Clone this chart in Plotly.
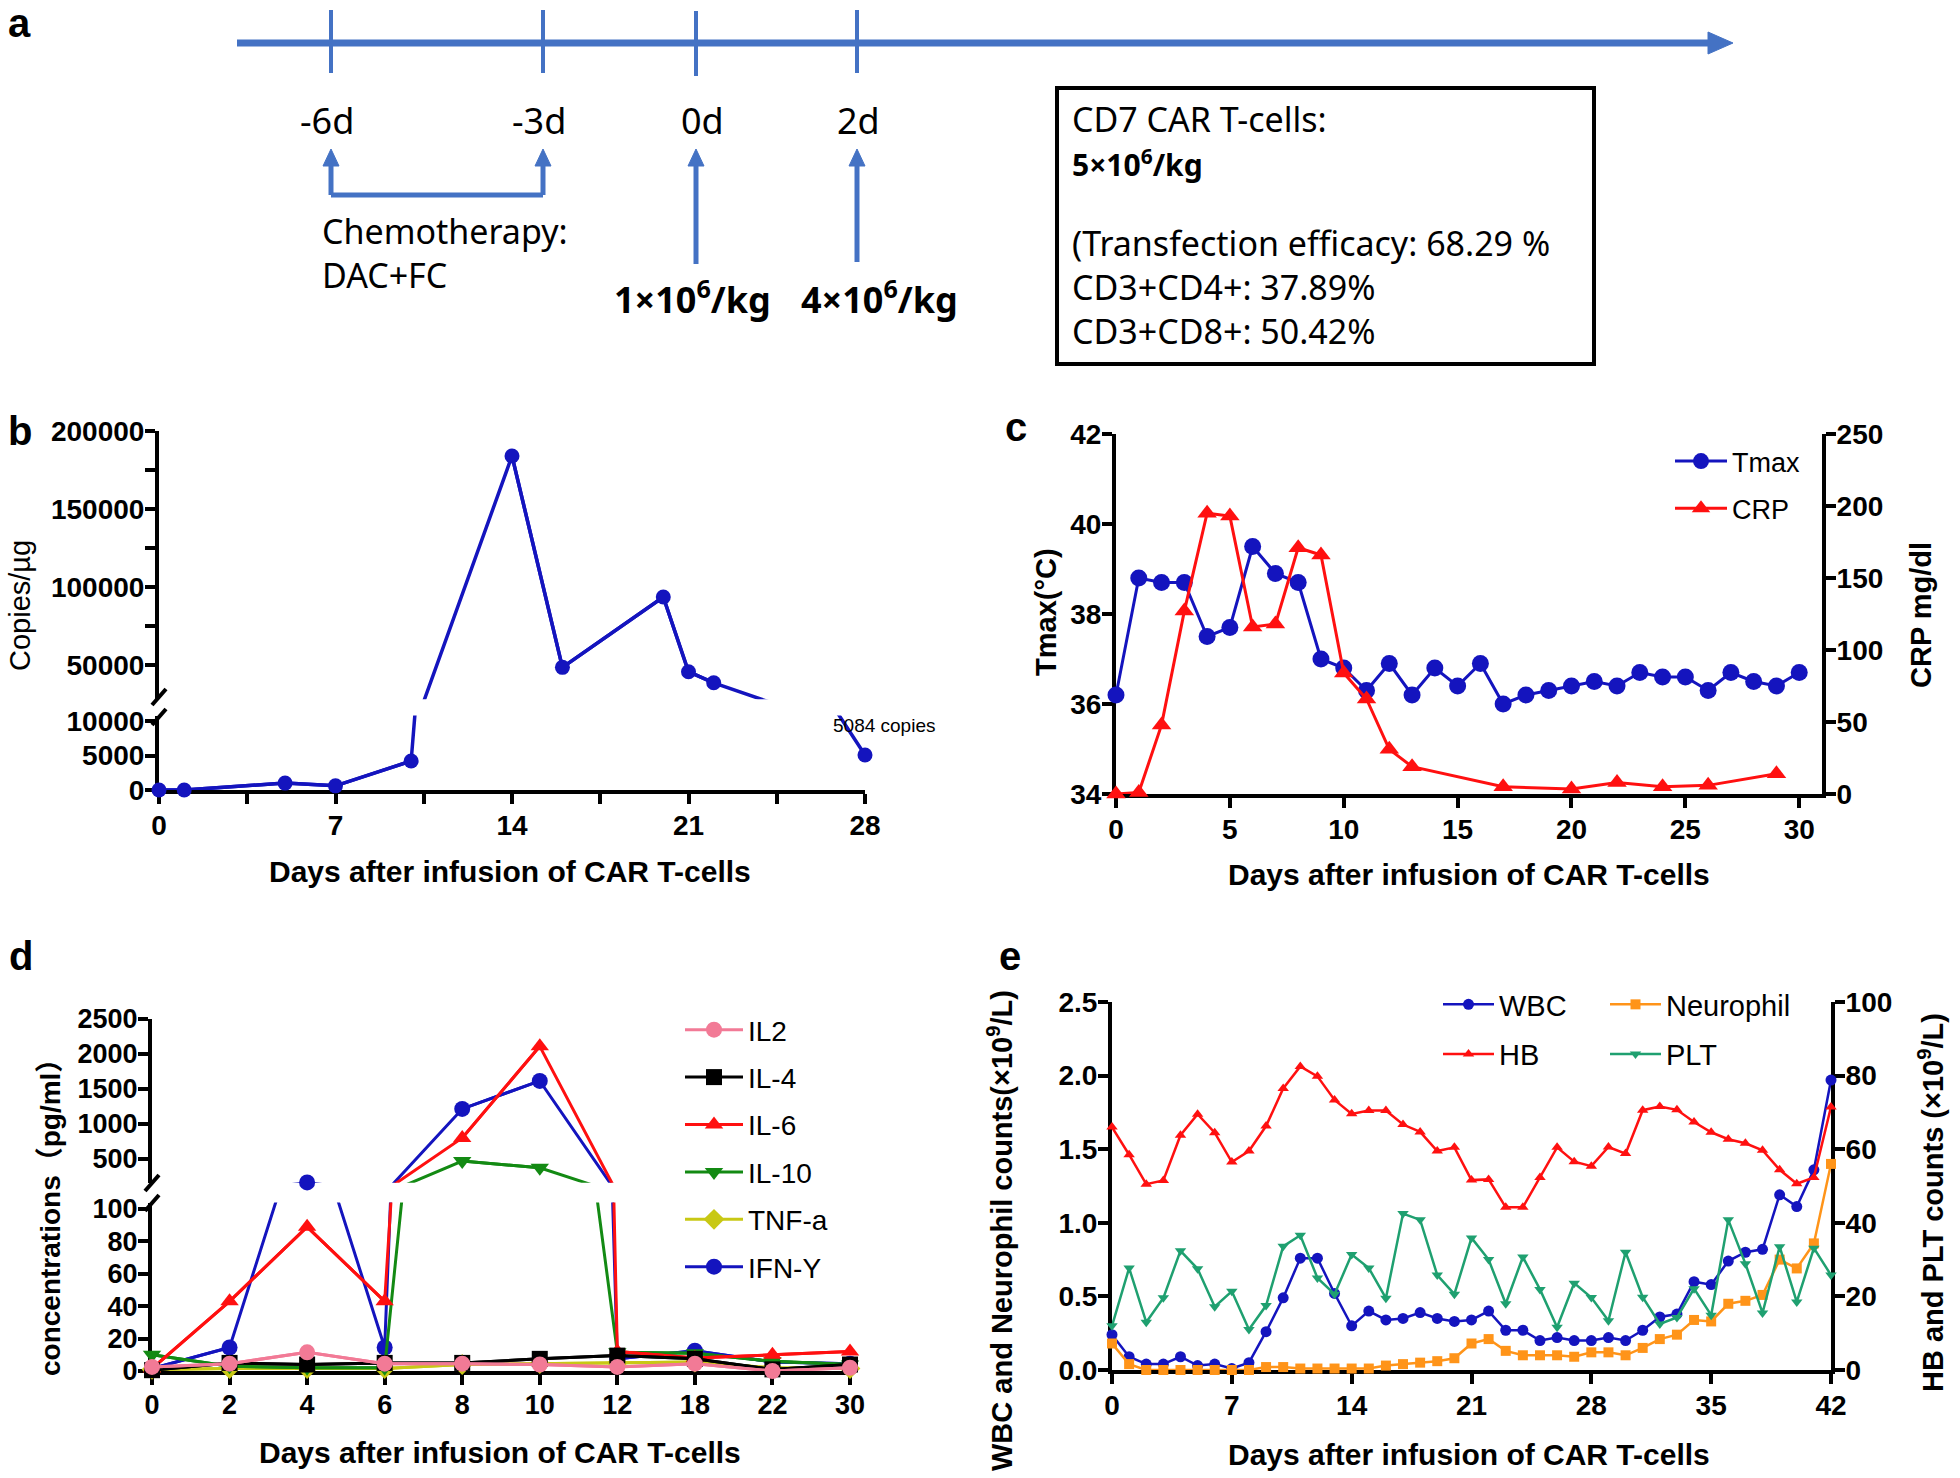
import plotly.graph_objects as go

W, H = 1960, 1478


def fx(p):
    return p / W


def fy(p):
    return 1 - p / H


SANS = "Liberation Sans, Arial, Helvetica, sans-serif"
SANS_CJK = "Liberation Sans, Arial, Noto Sans CJK SC, sans-serif"
DIAG = "Noto Sans, Open Sans, sans-serif"

BLUE = "#1414BE"
RED = "#FF1010"
PINK = "#F27A96"
BLACK = "#000000"
GREEN = "#138A13"
YELLOW = "#C8C814"
ORANGE = "#FF9419"
TEAL = "#1FA070"
TL_BLUE = "#4472C4"

# ---------------- data ----------------
# panel a
a_days = ["-6d", "-3d", "0d", "2d"]
a_doses = ["1×10<sup>6</sup>/kg", "4×10<sup>6</sup>/kg"]
a_chemo = ["Chemotherapy:", "DAC+FC"]
a_box_head = ["CD7 CAR T-cells:", "5×10<sup>6</sup>/kg"]
a_box_body = ["(Transfection efficacy: 68.29 %", "CD3+CD4+: 37.89%", "CD3+CD8+: 50.42%"]

# panel b
b_days = [0, 1, 5, 7, 10, 14, 16, 20, 21, 22, 28]
b_copies = [0, 0, 1000, 600, 4200, 184000, 48500, 93600, 45700, 38600, 5084]

# panel c
c_days = [0, 1, 2, 3, 4, 5, 6, 7, 8, 9, 10, 11, 12, 13, 14, 15, 16, 17, 18, 19, 20,
          21, 22, 23, 24, 25, 26, 27, 28, 29, 30]
c_tmax = [36.2, 38.8, 38.7, 38.7, 37.5, 37.7, 39.5, 38.9, 38.7, 37.0, 36.8, 36.3, 36.9,
          36.2, 36.8, 36.4, 36.9, 36.0, 36.2, 36.3, 36.4, 36.5, 36.4, 36.7, 36.6, 36.6,
          36.3, 36.7, 36.5, 36.4, 36.7]
c_crp_days = [0, 1, 2, 3, 4, 5, 6, 7, 8, 9, 10, 11, 12, 13, 17, 20, 22, 24, 26, 29]
c_crp = [0, 1, 48, 127, 195, 193, 116, 118, 171, 166, 84, 66, 31, 19, 5, 3.5, 8, 5, 6, 14]

# panel d
d_days = ["0", "2", "4", "6", "8", "10", "12", "18", "22", "30"]
d_il2 = [2.5, 4.5, 11.5, 4.5, 4.5, 4, 2.5, 4.5, 0, 2]
d_il4 = [0.5, 5, 4, 5, 5, 7.5, 9.5, 7.5, 1, 4]
d_il6 = [1.5, 43, 89, 43, 800, 2110, 12, 8, 10, 12]
d_il10 = [10, 3, 2, 2, 470, 375, 11.5, 11, 6, 4]
d_tnfa = [1, 1.5, 1.5, 1.5, 4, 4.5, 5, 5.5, 2, 1.5]
d_ifny = [1.5, 14.5, 165, 14.5, 1215, 1615, 7.5, 12.5, 5.5, 4.5]

# panel e
e_days = [0, 1, 2, 3, 4, 5, 6, 7, 8, 9, 10, 11, 12, 13, 14, 15, 16, 17, 18, 19, 20, 21,
          22, 23, 24, 25, 26, 27, 28, 29, 30, 31, 32, 33, 34, 35, 36, 37, 38, 39, 40, 41, 42]
e_wbc = [0.24, 0.09, 0.04, 0.04, 0.09, 0.03, 0.04, 0.01, 0.05, 0.26, 0.49, 0.76, 0.76,
         0.52, 0.30, 0.40, 0.34, 0.35, 0.39, 0.35, 0.33, 0.34, 0.40, 0.27, 0.27, 0.20,
         0.22, 0.20, 0.20, 0.22, 0.20, 0.27, 0.36, 0.38, 0.60, 0.58, 0.74, 0.80, 0.82,
         1.19, 1.11, 1.36, 1.97]
e_neu = [0.18, 0.04, 0.0, 0.0, 0.0, 0.0, 0.0, 0.0, 0.0, 0.02, 0.02, 0.01, 0.01, 0.01,
         0.01, 0.01, 0.03, 0.04, 0.05, 0.06, 0.08, 0.18, 0.21, 0.13, 0.10, 0.10, 0.10,
         0.09, 0.12, 0.12, 0.10, 0.15, 0.21, 0.24, 0.34, 0.33, 0.45, 0.47, 0.51, 0.75,
         0.69, 0.86, 1.40]
e_hb = [66, 58.5, 50.5, 51.5, 63.8, 69.5, 64.5, 56.5, 59.5, 66.3, 76.5, 82.5, 79.8, 73.4,
        69.6, 70.5, 70.5, 66.7, 64.7, 59.5, 60.5, 51.6, 51.8, 44.2, 44.2, 52.3, 60.5,
        56.6, 55.4, 60.6, 58.8, 70.6, 71.6, 70.7, 67.4, 64.6, 62.7, 61.6, 59.7, 54.4,
        50.6, 52.3, 71.5]
e_plt = [12, 27.7, 13, 19.6, 32.4, 27.5, 17.2, 21.4, 11, 17.5, 33.6, 36.6, 25, 20.6, 31.4,
         27.7, 19.5, 42.5, 40.8, 25.8, 20.6, 35.9, 30, 18, 30.7, 21.9, 11.6, 23.6, 19.7,
         13.4, 32, 19.8, 12.5, 14.3, 22.1, 14.9, 40.8, 28.9, 15.5, 33.5, 18.5, 33.1, 25.8]

# ---------------- ranges of broken axes ----------------
B_LO = (0, 10800)
B_HI = (28000, 200000)
D_LO = (0, 104)
D_HI = (160, 2500)

fig = go.Figure()


def within(vals, rng):
    lo, hi = rng
    return [v if (v is not None and lo <= v <= hi) else None for v in vals]


def broken(x, y, xa, ya_lo, ya_hi, rlo, rhi, name, color, symbol, size, width,
           legend=None, rank=None):
    for ya, rng, first in ((ya_lo, rlo, True), (ya_hi, rhi, False)):
        fig.add_trace(go.Scatter(
            x=x, y=y, mode="lines", line=dict(color=color, width=width),
            xaxis=xa, yaxis=ya, showlegend=False, legendgroup=name, hoverinfo="skip"))
        fig.add_trace(go.Scatter(
            x=x, y=within(y, rng), mode="lines+markers", name=name,
            line=dict(color=color, width=width),
            marker=dict(color=color, symbol=symbol, size=size, line=dict(width=0)),
            xaxis=xa, yaxis=ya, cliponaxis=False, connectgaps=False,
            showlegend=(legend is not None and first), legend=legend or "legend",
            legendgroup=name, legendrank=rank or 1000))


# panel b
broken(b_days, b_copies, "x", "y", "y2", B_LO, B_HI, "copies", BLUE, "circle", 15, 3.5)

# panel c
fig.add_trace(go.Scatter(x=c_crp_days, y=c_crp, name="CRP", mode="lines+markers",
                         line=dict(color=RED, width=3),
                         marker=dict(symbol="triangle-up", size=17, color=RED),
                         xaxis="x2", yaxis="y4", cliponaxis=False, legend="legend",
                         legendgroup="CRP", legendrank=2))
fig.add_trace(go.Scatter(x=c_days, y=c_tmax, name="Tmax", mode="lines+markers",
                         line=dict(color=BLUE, width=3),
                         marker=dict(symbol="circle", size=17, color=BLUE),
                         xaxis="x2", yaxis="y3", cliponaxis=False, legend="legend",
                         legendgroup="Tmax", legendrank=1))

# panel d (drawn so that IL2 ends on top)
d_series = [
    ("IFN-Y", d_ifny, BLUE, "circle", 6),
    ("TNF-a", d_tnfa, YELLOW, "diamond", 5),
    ("IL-10", d_il10, GREEN, "triangle-down", 4),
    ("IL-6", d_il6, RED, "triangle-up", 3),
    ("IL-4", d_il4, BLACK, "square", 2),
    ("IL2", d_il2, PINK, "circle", 1),
]
for name, vals, col, sym, rank in d_series:
    broken(d_days, vals, "x3", "y5", "y6", D_LO, D_HI, name, col, sym, 16, 3,
           legend="legend2", rank=rank)

# panel e
fig.add_trace(go.Scatter(x=e_days, y=e_wbc, name="WBC", mode="lines+markers",
                         line=dict(color=BLUE, width=2.5),
                         marker=dict(symbol="circle", size=11, color=BLUE),
                         xaxis="x4", yaxis="y7", cliponaxis=False, legend="legend3",
                         legendgroup="WBC"))
fig.add_trace(go.Scatter(x=e_days, y=e_neu, name="Neurophil", mode="lines+markers",
                         line=dict(color=ORANGE, width=2.5),
                         marker=dict(symbol="square", size=10, color=ORANGE),
                         xaxis="x4", yaxis="y7", cliponaxis=False, legend="legend4",
                         legendgroup="Neurophil"))
fig.add_trace(go.Scatter(x=e_days, y=e_hb, name="HB", mode="lines+markers",
                         line=dict(color=RED, width=2.5),
                         marker=dict(symbol="triangle-up", size=10, color=RED),
                         xaxis="x4", yaxis="y8", cliponaxis=False, legend="legend3",
                         legendgroup="HB"))
fig.add_trace(go.Scatter(x=e_days, y=e_plt, name="PLT", mode="lines+markers",
                         line=dict(color=TEAL, width=2.5),
                         marker=dict(symbol="triangle-down", size=10, color=TEAL),
                         xaxis="x4", yaxis="y8", cliponaxis=False, legend="legend4",
                         legendgroup="PLT"))


# ---------------- axes ----------------
def ax(is_x=False, **kw):
    d = dict(showline=True, linecolor="black", linewidth=4, ticks="outside", ticklen=10,
             tickwidth=4, tickcolor="black", showgrid=False, zeroline=False,
             tickfont=dict(family=SANS, size=28, color="black", weight="bold"),
             layer="below traces", fixedrange=True,
             ticklabelstandoff=(-3 if is_x else -5))
    d.update(kw)
    return d


minor_b = dict(dtick=25000, tick0=0, ticks="outside", ticklen=10, tickwidth=4,
               tickcolor="black", showgrid=False)
TF27 = dict(family=SANS, size=27, color="black", weight="bold")

fig.update_layout(
    xaxis=ax(True, domain=[fx(159), fx(865)], range=[0, 28], dtick=7, tick0=0, anchor="y",
             minor=dict(dtick=3.5, tick0=0, ticks="outside", ticklen=10, tickwidth=4,
                        tickcolor="black", showgrid=False)),
    yaxis=ax(domain=[fy(790), fy(790 - 10800 / 145)], range=list(B_LO), dtick=5000,
             tick0=0, tickformat="d", anchor="x"),
    yaxis2=ax(domain=[fy(431 + 172000 / 641), fy(431)], range=list(B_HI), dtick=50000,
              tick0=0, tickformat="d", anchor="x", minor=minor_b),
    xaxis2=ax(True, domain=[fx(1116), fx(1822)], range=[0, 31], dtick=5, tick0=0,
              anchor="y3"),
    yaxis3=ax(domain=[fy(794), fy(434)], range=[34, 42], dtick=2, tick0=34, anchor="x2"),
    yaxis4=ax(domain=[fy(794), fy(434)], range=[0, 250], dtick=50, tick0=0,
              anchor="x2", overlaying="y3", side="right"),
    xaxis3=ax(True, domain=[fx(152), fx(850)], type="category", range=[0, 9], anchor="y5",
              tickfont=TF27),
    yaxis5=ax(domain=[fy(1371), fy(1371 - 104 * 1.62)], range=list(D_LO), dtick=20,
              tick0=0, anchor="x3", tickfont=TF27),
    yaxis6=ax(domain=[fy(1019 + 2340 * 0.07), fy(1019)], range=list(D_HI), dtick=500,
              tick0=0, anchor="x3", tickfont=TF27),
    xaxis4=ax(True, domain=[fx(1112), fx(1831)], range=[0, 42], dtick=7, tick0=0,
              anchor="y7"),
    yaxis7=ax(domain=[fy(1370), fy(1002)], range=[0, 2.5], dtick=0.5, tick0=0,
              tickformat=".1f", anchor="x4"),
    yaxis8=ax(domain=[fy(1370), fy(1002)], range=[0, 100], dtick=20, tick0=0,
              anchor="x4", overlaying="y7", side="right"),
)


# ---------------- legends ----------------
def leg(x, y, size, itemwidth, gap):
    return dict(x=fx(x), y=fy(y), xanchor="left", yanchor="top",
                font=dict(family=SANS, size=size, color="black"),
                bgcolor="rgba(0,0,0,0)", itemwidth=itemwidth, tracegroupgap=gap,
                traceorder="grouped")


fig.update_layout(
    legend=leg(1670, 437, 27, 52, 9),
    legend2=leg(680, 1005, 28, 58, 8),
    legend3=leg(1438, 979, 29, 51, 9),
    legend4=leg(1605, 979, 29, 51, 9),
)

# ---------------- annotations ----------------
anns = []


def note(text, x, y, size, family=SANS, bold=False, xanchor="center", yanchor="middle",
         angle=0, align="center"):
    anns.append(dict(text=text, x=fx(x), y=fy(y), xref="paper", yref="paper",
                     showarrow=False, xanchor=xanchor, yanchor=yanchor, textangle=angle,
                     align=align,
                     font=dict(family=family, size=size, color="black",
                               weight="bold" if bold else "normal")))


# panel letters
for letter, x, y in (("a", 19, 23), ("b", 20, 431), ("c", 1016, 427), ("d", 21, 956),
                     ("e", 1010, 956)):
    note(letter, x, y, 40, bold=True)

# panel a texts
for lab, x in zip(a_days, (327, 539, 702, 858)):
    note(lab, x, 121, 36, family=DIAG)
note("<br>".join(a_chemo), 320, 253, 34, family=DIAG, xanchor="left", align="left")
for lab, x in zip(a_doses, (692, 879)):
    note(lab, x, 298, 36, family=DIAG, bold=True)
note(a_box_head[0] + "<br><b><span style='font-size:30px'>" + a_box_head[1]
     + "</span></b>", 1070, 141, 34, family=DIAG, xanchor="left", align="left")
note("<br>".join(a_box_body), 1070, 287, 34, family=DIAG, xanchor="left", align="left")

# axis titles
XT = "Days after infusion of CAR T-cells"
note(XT, 510, 871, 30, bold=True)
note(XT, 1469, 875, 30, bold=True)
note(XT, 500, 1452, 30, bold=True)
note(XT, 1469, 1454, 30, bold=True)
note("Copies/µg", 20, 606, 29, angle=-90)
note("Tmax(°C)", 1046, 612, 29, bold=True, angle=-90)
note("CRP mg/dl", 1921, 615, 29, bold=True, angle=-90)
note("concentrations（pg/ml）", 50, 1211, 28, family=SANS_CJK, bold=True, angle=-90)
note("WBC and Neurophil counts(×10<sup>9</sup>/L)", 1000, 1231, 29, bold=True, angle=-90)
note("HB and PLT counts (×10<sup>9</sup>/L)", 1931, 1203, 29, bold=True, angle=-90)
note("5084 copies", 884, 725, 19)

# ---------------- shapes (panel a diagram + axis breaks) ----------------
shapes = []


def seg(x0, y0, x1, y1, color, width):
    shapes.append(dict(type="line", xref="paper", yref="paper", x0=fx(x0), y0=fy(y0),
                       x1=fx(x1), y1=fy(y1), line=dict(color=color, width=width)))


def tri(points, color):
    path = "M " + " L ".join(f"{fx(px)},{fy(py)}" for px, py in points) + " Z"
    shapes.append(dict(type="path", xref="paper", yref="paper", path=path,
                       fillcolor=color, line=dict(color=color, width=1)))


# timeline
seg(237, 43, 1712, 43, TL_BLUE, 7)
tri([(1733, 43), (1708, 32), (1708, 54)], TL_BLUE)
for x, y0, y1 in ((331, 10, 73), (543, 10, 73), (696, 11, 76), (857, 10, 73)):
    seg(x, y0, x, y1, TL_BLUE, 4)
# chemo bracket
for x in (331, 543):
    seg(x, 195, x, 164, TL_BLUE, 5)
    tri([(x, 149), (x - 8, 166), (x + 8, 166)], TL_BLUE)
seg(331, 195, 543, 195, TL_BLUE, 5)
# infusion arrows
for x, yb in ((696, 264), (857, 262)):
    seg(x, yb, x, 164, TL_BLUE, 5)
    tri([(x, 149), (x - 8, 166), (x + 8, 166)], TL_BLUE)
# box
shapes.append(dict(type="rect", xref="paper", yref="paper", x0=fx(1057), x1=fx(1594),
                   y0=fy(364), y1=fy(88), line=dict(color="black", width=4),
                   fillcolor="rgba(0,0,0,0)"))

# axis break marks
for cx, cy in ((159, 697), (159, 717), (152, 1183), (152, 1203)):
    seg(cx - 7, cy + 8, cx + 7, cy - 8, "black", 4)

fig.update_layout(
    width=W, height=H, autosize=False,
    margin=dict(l=0, r=0, t=0, b=0, pad=0, autoexpand=False),
    paper_bgcolor="white", plot_bgcolor="white",
    font=dict(family=SANS, color="black"),
    annotations=anns, shapes=shapes, hovermode=False,
)

PIN = ("var gd=document.getElementById('{plot_id}');"
       "document.documentElement.style.margin='0';"
       "document.documentElement.style.overflow='hidden';"
       "document.body.style.margin='0';document.body.style.padding='0';"
       "document.body.style.overflow='hidden';"
       "gd.style.position='fixed';gd.style.left='0px';gd.style.top='0px';")

fig.write_html("out.html", config={"displayModeBar": False, "staticPlot": True},
               post_script=PIN)
